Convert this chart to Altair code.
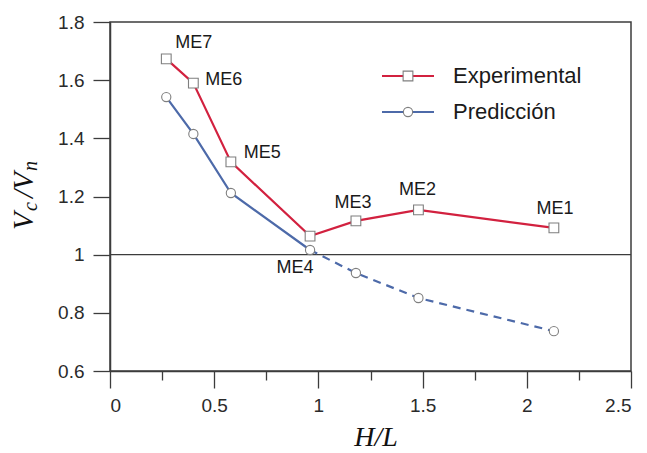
import altair as alt
import pandas as pd

# H/L ratio of each specimen and the normalised shear capacity Vc/Vn
hl = [0.27, 0.40, 0.58, 0.96, 1.18, 1.48, 2.13]
experimental = [1.673, 1.590, 1.319, 1.064, 1.116, 1.154, 1.092]
prediccion = [1.542, 1.415, 1.212, 1.016, 0.937, 0.851, 0.737]
specimens = ["ME7", "ME6", "ME5", "ME4", "ME3", "ME2", "ME1"]

x_ticks = [0, 0.25, 0.5, 0.75, 1, 1.25, 1.5, 1.75, 2, 2.25, 2.5]
y_ticks = [0.6, 0.7, 0.8, 0.9, 1.0, 1.1, 1.2, 1.3, 1.4, 1.5, 1.6, 1.7, 1.8]

RED = "#d2213f"
BLUE = "#4d6aa9"
FRAME = "#3c3c3c"
MARKER_EDGE = "#7f7f7f"
LABEL_FONT = "Liberation Sans"
MATH_FONT = "Liberation Serif"

df = pd.DataFrame({
    "hl": hl,
    "exp": experimental,
    "pred": prediccion,
    "name": specimens,
    "idx": list(range(len(hl))),
})

x_scale = alt.Scale(domain=[0, 2.5], nice=False, zero=False)
y_scale = alt.Scale(domain=[0.6, 1.8], nice=False, zero=False)

x_axis = alt.Axis(
    values=x_ticks,
    labelExpr="round(datum.value*4) % 2 == 0 ? format(datum.value, '~g') : ''",
    tickSize={"condition": {"test": "round(datum.value*4) % 2 == 1", "value": 9}, "value": 17},
    labelPadding=8,
    grid=False,
    title=None,
)
y_axis = alt.Axis(
    values=y_ticks,
    labelExpr="round(datum.value*10) % 2 == 0 ? (datum.value == 1 ? '1' : format(datum.value, '.1f')) : ''",
    tickSize={"condition": {"test": "round(datum.value*10) % 2 == 1", "value": 9}, "value": 17},
    labelPadding=9,
    grid=False,
    title=None,
)

base = alt.Chart(df)
X = alt.X("hl:Q", scale=x_scale, axis=x_axis)
Y_EXP = alt.Y("exp:Q", scale=y_scale, axis=y_axis)
Y_PRED = alt.Y("pred:Q", scale=y_scale)

# reference line at Vc/Vn = 1
unity = alt.Chart(pd.DataFrame({"v": [1.0]})).mark_rule(color=FRAME, strokeWidth=1.3).encode(
    y=alt.Y("v:Q", scale=y_scale)
)

exp_line = base.mark_line(color=RED, strokeWidth=2.2).encode(x=X, y=Y_EXP)
pred_solid = base.transform_filter("datum.idx <= 3").mark_line(color=BLUE, strokeWidth=2.2).encode(x=X, y=Y_PRED)
pred_dash = base.transform_filter("datum.idx >= 3").mark_line(
    color=BLUE, strokeWidth=2.2, strokeDash=[8, 6]
).encode(x=X, y=Y_PRED)

exp_pts = base.mark_point(shape="square", size=95, filled=True, fill="white",
                          stroke=MARKER_EDGE, strokeWidth=1.1, opacity=1).encode(x=X, y=Y_EXP)
pred_pts = base.mark_point(shape="circle", size=85, filled=True, fill="white",
                           stroke=MARKER_EDGE, strokeWidth=1.1, opacity=1).encode(x=X, y=Y_PRED)

# specimen labels, each nudged off its marker
offsets = {
    "ME7": ("exp", "left", 9, -16),
    "ME6": ("exp", "left", 12, -3),
    "ME5": ("exp", "left", 13, -9),
    "ME4": ("pred", "center", -15, 18),
    "ME3": ("exp", "center", -3, -18),
    "ME2": ("exp", "center", -1, -20),
    "ME1": ("exp", "center", 1, -19),
}
label_layers = []
for name, (col, align, dx, dy) in offsets.items():
    label_layers.append(
        base.transform_filter(alt.datum.name == name).mark_text(
            font=LABEL_FONT, fontSize=18, color="#1a1a1a", align=align, baseline="middle", dx=dx, dy=dy
        ).encode(x=X, y=alt.Y(f"{col}:Q", scale=y_scale), text="name:N")
    )

# legend drawn inside the plot area
legend_rows = pd.DataFrame({"label": ["Experimental", "Predicción"]})
leg = []
for i, (label, color, shape) in enumerate([("Experimental", RED, "square"), ("Predicción", BLUE, "circle")]):
    ly = 54 + i * 36
    row = alt.Chart(legend_rows).transform_filter(alt.datum.label == label)
    leg.append(row.mark_rule(color=color, strokeWidth=2.2).encode(
        x=alt.value(272), x2=alt.value(324), y=alt.value(ly)))
    leg.append(row.mark_point(shape=shape, size=95 if shape == "square" else 85, filled=True, fill="white",
                              stroke=MARKER_EDGE, strokeWidth=1.1, opacity=1).encode(
        x=alt.value(298), y=alt.value(ly)))
    leg.append(row.mark_text(font=LABEL_FONT, fontSize=22, color="#1a1a1a", align="left",
                             baseline="middle").encode(x=alt.value(343), y=alt.value(ly), text="label:N"))

# axis titles set in italic math style
title_df = pd.DataFrame({"t": [0]})
tbase = alt.Chart(title_df)
x_title = tbase.mark_text(font=MATH_FONT, fontStyle="italic", fontSize=28, color="#111",
                          align="center", baseline="alphabetic").encode(
    x=alt.value(266), y=alt.value(424), text=alt.value("H/L"))

y_parts = [
    ("V", 29, 0, 208),
    ("c", 20, 4, 189),
    ("/V", 29, 0, 176),
    ("n", 20, 4, 149),
]
y_title = []
for txt, fs, lower, ypos in y_parts:
    y_title.append(tbase.mark_text(font=MATH_FONT, fontStyle="italic", fontSize=fs, color="#111",
                                   align="left", baseline="alphabetic", angle=270).encode(
        x=alt.value(-77 + lower), y=alt.value(ypos), text=alt.value(txt)))

chart = alt.layer(
    unity, exp_line, pred_solid, pred_dash, exp_pts, pred_pts, *label_layers, *leg, x_title, *y_title
).properties(
    width=521, height=349,
    padding={"left": 110, "top": 22, "right": 16, "bottom": 82},
    autosize=alt.AutoSizeParams(type="none"),
).configure_view(
    stroke=FRAME, strokeWidth=1.5
).configure_axis(
    domainColor=FRAME, domainWidth=1.5, tickColor=FRAME, tickWidth=1.3,
    labelFont=LABEL_FONT, labelFontSize=19, labelColor="#2a2a2a",
)

chart.save("out.html", embed_options={"renderer": "svg", "actions": False})
